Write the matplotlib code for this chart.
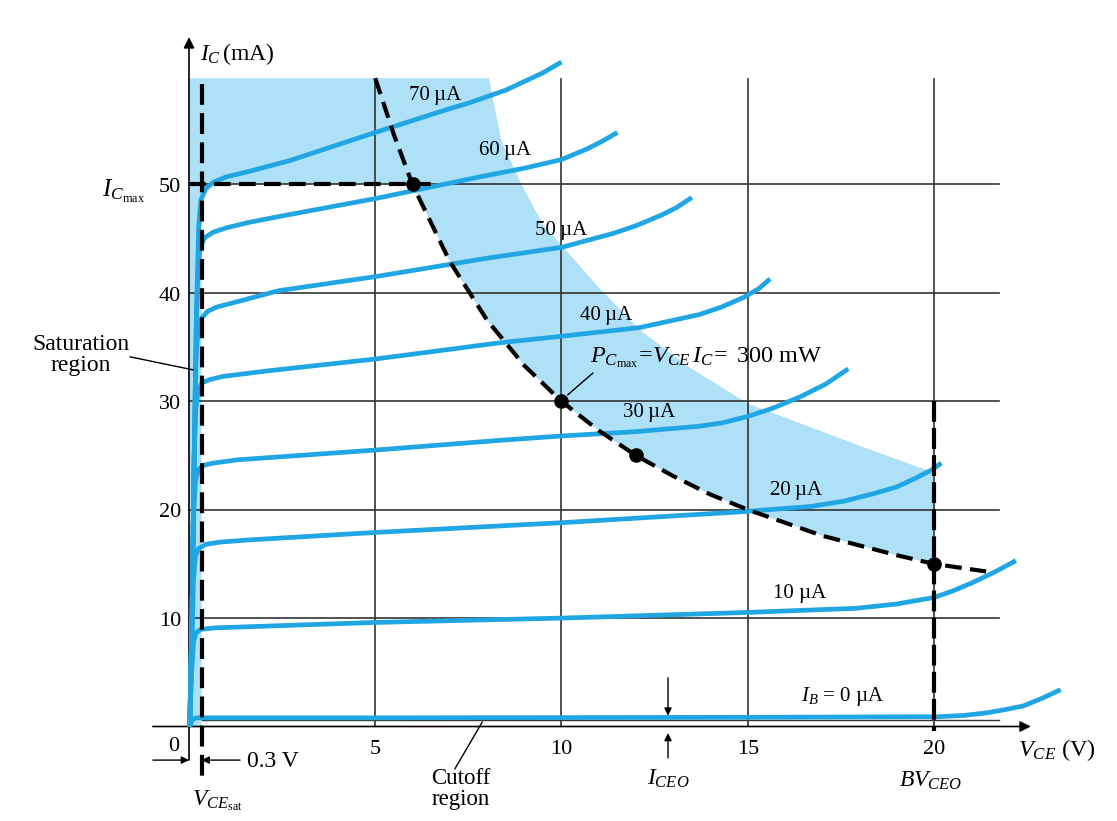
import matplotlib.pyplot as plt
from matplotlib.patches import Polygon

plt.rcParams['font.family'] = ['Liberation Serif', 'DejaVu Serif']
plt.rcParams['mathtext.fontset'] = 'custom'
plt.rcParams['mathtext.rm'] = 'Liberation Serif'
plt.rcParams['mathtext.it'] = 'Liberation Serif:italic'

# collector characteristics, V_CE in V, I_C in mA
v_70 = [0.02, 0.08, 0.14, 0.2, 0.26, 0.32, 0.45, 0.65, 1.0, 1.6, 2.7, 5.0, 7.0, 7.5, 8.0, 8.5, 9.0, 9.5, 10.0]
i_70 = [0, 10, 25, 38, 46, 48.6, 49.6, 50.2, 50.7, 51.2, 52.2, 54.8, 57.0, 57.5, 58.1, 58.7, 59.5, 60.3, 61.3]
v_60 = [0.02, 0.08, 0.14, 0.2, 0.24, 0.3, 0.42, 0.65, 1.0, 1.6, 2.5, 5.0, 7.8, 9.0, 10.0, 10.35, 10.7, 11.1, 11.5]
i_60 = [0, 10, 25, 38, 42, 44.2, 45.1, 45.6, 46.0, 46.5, 47.1, 48.7, 50.7, 51.5, 52.3, 52.8, 53.3, 54.0, 54.8]
v_50 = [0.02, 0.08, 0.14, 0.19, 0.24, 0.32, 0.5, 0.75, 1.2, 2.4, 5.0, 8.0, 10.0, 11.4, 12.0, 12.7, 13.1, 13.5]
i_50 = [0, 10, 25, 34, 36.6, 37.6, 38.3, 38.7, 39.1, 40.2, 41.5, 43.2, 44.2, 45.5, 46.2, 47.2, 47.9, 48.8]
v_40 = [0.02, 0.08, 0.14, 0.18, 0.24, 0.35, 0.55, 0.92, 2.1, 5.0, 8.35, 10.0, 12.1, 13.7, 14.3, 14.9, 15.3, 15.6]
i_40 = [0, 10, 25, 29.2, 30.9, 31.7, 32.0, 32.3, 32.8, 33.9, 35.4, 36.0, 36.8, 38.0, 38.7, 39.6, 40.4, 41.3]
v_30 = [0.02, 0.08, 0.13, 0.17, 0.25, 0.4, 0.65, 1.3, 5.0, 8.35, 10.0, 12.0, 13.7, 14.3, 15.0, 15.7, 16.4, 17.1, 17.7]
i_30 = [0, 10, 20, 22.6, 23.7, 24.1, 24.3, 24.6, 25.5, 26.4, 26.8, 27.2, 27.7, 28.0, 28.6, 29.4, 30.4, 31.6, 33.0]
v_20 = [0.02, 0.08, 0.12, 0.17, 0.25, 0.45, 0.8, 1.55, 5.0, 10.0, 14.8, 16.7, 17.6, 18.4, 19.0, 19.5, 19.9, 20.2]
i_20 = [0, 8, 13.5, 15.7, 16.4, 16.8, 17.0, 17.2, 17.9, 18.8, 19.8, 20.3, 20.8, 21.5, 22.1, 22.9, 23.6, 24.3]
v_10 = [0.02, 0.07, 0.12, 0.18, 0.3, 0.7, 5.0, 10.0, 14.8, 17.9, 19.0, 20.0, 20.5, 21.05, 21.6, 22.2]
i_10 = [0, 5, 7.8, 8.6, 8.95, 9.1, 9.6, 10.0, 10.5, 10.9, 11.3, 11.9, 12.5, 13.3, 14.2, 15.3]
v_0 = [0.02, 0.08, 0.2, 5.0, 10.0, 15.0, 20.1, 20.8, 21.4, 21.9, 22.4, 22.9, 23.4]
i_0 = [0, 0.6, 0.8, 0.8, 0.82, 0.85, 0.9, 1.02, 1.25, 1.55, 1.9, 2.6, 3.4]

curves_v = [v_70, v_60, v_50, v_40, v_30, v_20, v_10, v_0]
curves_i = [i_70, i_60, i_50, i_40, i_30, i_20, i_10, i_0]
curve_labels = ['70\u2009µA', '60\u2009µA', '50\u2009µA', '40\u2009µA',
                '30\u2009µA', '20\u2009µA', '10 µA', r'$I_B$ = 0 µA']
label_v = [6.6, 8.48, 10.0, 11.2, 12.35, 16.3, 16.4, 17.55]
label_i = [58.2, 53.1, 45.8, 37.9, 29.0, 21.8, 12.3, 2.8]

# maximum power curve P = 300 mW
p_v = [5.0, 5.5, 6.0, 7.0, 8.0, 9.0, 10.0, 11.0, 12.0, 13.0, 14.0, 15.0,
       16.0, 17.0, 18.0, 19.0, 20.0, 21.4]
p_i = [59.8, 54.6, 50.0, 42.9, 37.5, 33.3, 30.0, 27.3, 25.0, 23.1, 21.4, 20.0,
       18.8, 17.6, 16.7, 15.8, 15.0, 14.3]
dot_v = [6.0, 10.0, 12.0, 20.0]
dot_i = [50.0, 30.0, 25.0, 15.0]

# outer edge of the shaded region
edge_v = [8.05, 8.38, 8.9, 9.5, 10.05, 11.0, 12.1, 13.4, 15.0, 16.0, 17.0, 18.0, 18.8, 19.6, 20.0]
edge_i = [59.8, 54.1, 50.2, 46.3, 44.2, 40.5, 36.6, 33.2, 29.8, 28.5, 27.2, 25.9, 24.9, 23.9, 23.5]

ic_max = 50
vce_sat = 0.34
bv_ceo = 20

x_ticks = [5, 10, 15, 20]
y_ticks = [10, 20, 30, 40, 50]

blue = '#1fa6e3'
shade = '#aee0f7'
grid_c = '#333333'

fig = plt.figure(figsize=(11.17, 8.21), dpi=100)
ax = fig.add_axes([0, 0, 1, 1])
ax.set_xlim(-5.074, 24.913)
ax.set_ylim(-8.718, 67.02)
ax.axis('off')

# shaded area (saturation strip + region beyond the limits)
p_back = [(v, i) for v, i in zip(p_v, p_i) if v >= 6.0][::-1]
shade_pts = ([(0, 0), (0, 59.8)] + list(zip(edge_v, edge_i)) + [(20, 15.0)]
             + p_back + [(vce_sat, ic_max), (vce_sat, 0)])
ax.add_patch(Polygon(shade_pts, closed=True, facecolor=shade, edgecolor='none', zorder=0))

# grid
for y in y_ticks:
    ax.plot([0, 21.75], [y, y], color=grid_c, lw=1.2, zorder=1)
for x in x_ticks:
    ax.plot([x, x], [0, 59.7], color=grid_c, lw=1.2, zorder=1)
ax.plot([vce_sat, 21.75], [0.6, 0.6], color=grid_c, lw=1.0, zorder=1)

# axes with arrows
arr = dict(arrowstyle='-|>', color='k', lw=1.2, mutation_scale=16, shrinkA=0, shrinkB=0)
ax.annotate('', xy=(22.6, 0), xytext=(-0.97, 0), arrowprops=arr, zorder=2)
ax.annotate('', xy=(0, 63.6), xytext=(0, -3.1), arrowprops=arr, zorder=2)

# curves
for vs, cs in zip(curves_v, curves_i):
    ax.plot(vs, cs, color=blue, lw=3.4, solid_capstyle='butt', solid_joinstyle='round', zorder=3)
for txt, x, y in zip(curve_labels, label_v, label_i):
    ax.text(x, y, txt, fontsize=15, ha='center', va='center', zorder=5)

# limit lines
dash = (0, (4, 2))
ax.plot(p_v, p_i, color='k', lw=3, linestyle=dash, zorder=4)
ax.plot([0, 6.6], [ic_max, ic_max], color='k', lw=3, linestyle=dash, zorder=4)
ax.plot([vce_sat, vce_sat], [59.3, -5.0], color='k', lw=3, linestyle=(0, (5, 2)), zorder=4)
ax.plot([bv_ceo, bv_ceo], [30, -0.4], color='k', lw=3, linestyle=(0, (5, 1.5)), zorder=4)
ax.plot(dot_v, dot_i, 'o', color='k', ms=9.5, zorder=6)

# tick labels
for y in y_ticks:
    ax.text(-0.21, y - 0.3, str(y), fontsize=16, ha='right', va='center')
for x in x_ticks:
    ax.text(x, -2.1, str(x), fontsize=16, ha='center', va='center')
ax.text(-0.4, -1.8, '0', fontsize=16, ha='center', va='center')

# axis titles and annotations
ax.text(0.3, 62.0, r'$I_C\,$(mA)', fontsize=17, ha='left', va='center')
ax.text(22.25, -2.2, r'$V_{CE}$ (V)', fontsize=17.5, ha='left', va='center')
ax.text(-1.18, 48.9, r'$I_{C_{\mathrm{max}}}$', fontsize=18, ha='right', va='baseline')
ax.text(10.77, 34.0, r'$P_{C_{\mathrm{max}}}\!=\!V_{CE}\,I_C\!=$ 300 mW',
        fontsize=17.5, ha='left', va='center', zorder=5)
ax.plot([10.17, 10.84], [30.6, 32.6], color='k', lw=1.0, zorder=5)

ax.text(-2.9, 34.3, 'Saturation\nregion', fontsize=17, ha='center', va='center',
        linespacing=1.0)
ax.plot([-1.58, 0.11], [34.1, 32.9], color='k', lw=1.0, zorder=5)

ax.text(7.3, -5.8, 'Cutoff\nregion', fontsize=16.5, ha='center', va='center', linespacing=1.0)
ax.plot([7.14, 7.87], [-3.9, 0.4], color='k', lw=1.0, zorder=5)

small = dict(arrowstyle='-|>', color='k', lw=1.0, mutation_scale=11, shrinkA=0, shrinkB=0)
ax.annotate('', xy=(0, -3.1), xytext=(-0.97, -3.1), arrowprops=small)
ax.annotate('', xy=(vce_sat, -3.1), xytext=(1.37, -3.1), arrowprops=small)
ax.text(1.56, -3.2, '0.3 V', fontsize=17, ha='left', va='center')
ax.text(0.08, -6.8, r'$V_{CE_{\mathrm{sat}}}$', fontsize=17, ha='left', va='center')

ax.annotate('', xy=(12.86, 1.0), xytext=(12.86, 4.5), arrowprops=small)
ax.annotate('', xy=(12.86, -0.6), xytext=(12.86, -2.9), arrowprops=small)
ax.text(12.86, -4.8, r'$I_{CEO}$', fontsize=17, ha='center', va='center')
ax.text(19.9, -5.0, r'$BV_{CEO}$', fontsize=17, ha='center', va='center')

fig.savefig('out.png', dpi=100)
